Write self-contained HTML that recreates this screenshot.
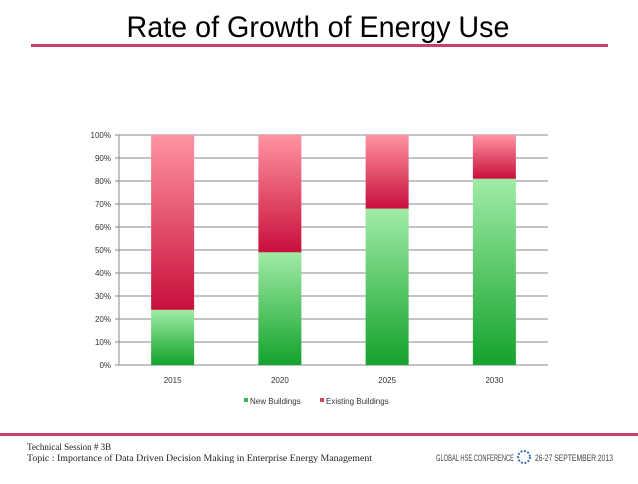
<!DOCTYPE html>
<html><head><meta charset="utf-8"><style>
body{margin:0;width:638px;height:479px;background:#fff;overflow:hidden;font-family:"Liberation Sans",sans-serif}
</style></head><body>
<svg width="638" height="479" viewBox="0 0 638 479" xmlns="http://www.w3.org/2000/svg">
<defs>
<linearGradient id="gG" x1="0" y1="1" x2="0" y2="0"><stop offset="0" stop-color="#14a22c"/><stop offset="1" stop-color="#a0eca6"/></linearGradient>
<linearGradient id="gR" x1="0" y1="1" x2="0" y2="0"><stop offset="0" stop-color="#c80f3b"/><stop offset="1" stop-color="#ff93a3"/></linearGradient>
</defs>
<text x="318" y="37" text-anchor="middle" font-size="30" textLength="383" lengthAdjust="spacingAndGlyphs" fill="#000">Rate of Growth of Energy Use</text>
<rect x="31" y="44" width="577" height="3" fill="#c4426b"/>
<g id="chart"></g>
<rect x="0" y="433" width="638" height="3" fill="#c4426b"/>
<text x="27" y="450" font-family="Liberation Serif,serif" font-size="9" fill="#222">Technical Session #  3B</text>
<text x="27" y="461" font-family="Liberation Serif,serif" font-size="9" fill="#222" textLength="345" lengthAdjust="spacingAndGlyphs">Topic : Importance of Data Driven Decision Making in Enterprise Energy Management</text>
<text x="436" y="461" font-size="9" fill="#444" textLength="78" lengthAdjust="spacingAndGlyphs">GLOBAL HSE CONFERENCE</text>
<circle cx="524" cy="457" r="6" fill="none" stroke="#3b6fb0" stroke-width="2" stroke-dasharray="2 1.5"/>
<text x="535" y="461" font-size="9" fill="#444" textLength="78" lengthAdjust="spacingAndGlyphs">26-27 SEPTEMBER 2013</text>
</svg>
<script>
const categories=["2015","2020","2025","2030"];
const newBuildings=[24,49,68,81];
const existingBuildings=[76,51,32,19];
const yTicks=[0,10,20,30,40,50,60,70,80,90,100];
const NS="http://www.w3.org/2000/svg";
const g=document.getElementById('chart');
const x0=119,x1=548,yB=365,yT=135;
const y=v=>yB-(yB-yT)*v/100;
const step=(x1-x0)/categories.length;
const cx=i=>x0+step*(i+0.5);
function mk(t,a,txt){const e=document.createElementNS(NS,t);for(const k in a)e.setAttribute(k,a[k]);if(txt!=null)e.textContent=txt;g.appendChild(e);return e;}
yTicks.forEach(v=>{
 const l=mk('line',{x1:x0-4,x2:x1,y1:y(v),y2:y(v),stroke:'#888','stroke-width':1});
 
 
 const t=mk('text',{x:x0-8,y:y(v)+3,'text-anchor':'end','font-size':8,fill:'#333'},v+'%');
 
 
});
const ax=mk('line',{x1:x0,x2:x0,y1:yT,y2:yB,stroke:'#888'});


categories.forEach((c,i)=>{
 const bw=43,bx=cx(i)-bw/2;
 const n=newBuildings[i],e=existingBuildings[i];
 const r1=mk('rect',{x:bx,y:y(n),width:bw,height:y(0)-y(n),fill:'url(#gG)'});
 
 
 const r2=mk('rect',{x:bx,y:y(n+e),width:bw,height:y(n)-y(n+e),fill:'url(#gR)'});
 
 
 const t=mk('text',{x:cx(i),y:yB+18,'text-anchor':'middle','font-size':8,fill:'#333'},c);
 
 
});
const l1=mk('rect',{x:244,y:398,width:4,height:4,fill:'#3cb54a'});


const l2=mk('text',{x:250,y:404,'font-size':8,fill:'#333'},'New Buildings');


const l3=mk('rect',{x:320,y:398,width:4,height:4,fill:'#d8435f'});


const l4=mk('text',{x:326,y:404,'font-size':8,fill:'#333'},'Existing Buildings');


</script>
</body></html>
